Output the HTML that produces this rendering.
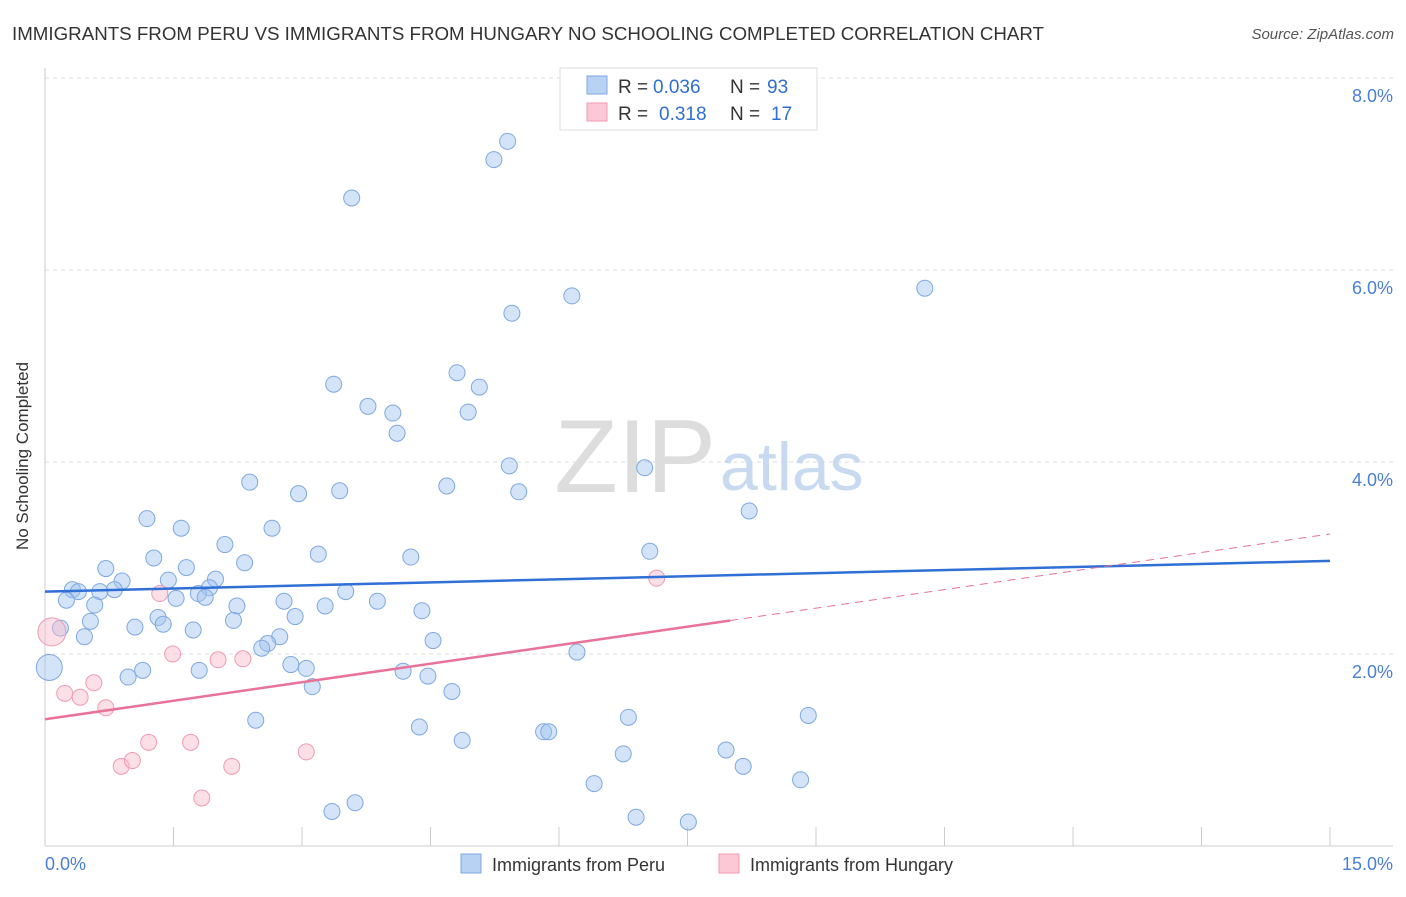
<!DOCTYPE html>
<html><head><meta charset="utf-8"><style>
body{margin:0;background:#fff;font-family:"Liberation Sans",sans-serif;}
svg text{font-family:"Liberation Sans",sans-serif;}
</style></head><body>
<svg id="chart" width="1406" height="892" viewBox="0 0 1406 892">
<text x="12" y="40" font-size="18" fill="#333" textLength="1032" lengthAdjust="spacingAndGlyphs">IMMIGRANTS FROM PERU VS IMMIGRANTS FROM HUNGARY NO SCHOOLING COMPLETED CORRELATION CHART</text>
<text x="1394" y="39" font-size="15" fill="#555" font-style="italic" text-anchor="end">Source: ZipAtlas.com</text>
<text x="28" y="456" font-size="17" fill="#333" text-anchor="middle" transform="rotate(-90 28 456)">No Schooling Completed</text>
<g id="grid"></g>
<text x="716" y="492" font-size="104" fill="#ddd" text-anchor="end" font-family="Liberation Serif">ZIP</text>
<text x="720" y="490" font-size="68" fill="#c8daf0">atlas</text>
<g id="marks"></g>
<g>
<rect x="560" y="68" width="257" height="62" fill="#fff" stroke="#ddd"/>
<rect x="587" y="76" width="20" height="18" fill="#b8d2f4" stroke="#7fa8e0"/>
<rect x="587" y="103" width="20" height="18" fill="#fcc8d6" stroke="#f09ab2"/>
<text x="618" y="93" font-size="19" fill="#333">R =</text>
<text x="653" y="93" font-size="19" fill="#2f6fcf">0.036</text>
<text x="730" y="93" font-size="19" fill="#333">N =</text>
<text x="767" y="93" font-size="19" fill="#2f6fcf">93</text>
<text x="618" y="120" font-size="19" fill="#333">R =</text>
<text x="659" y="120" font-size="19" fill="#2f6fcf">0.318</text>
<text x="730" y="120" font-size="19" fill="#333">N =</text>
<text x="771" y="120" font-size="19" fill="#2f6fcf">17</text>
</g>
<g>
<rect x="461" y="854" width="20" height="19" fill="#b8d2f4" stroke="#7fa8e0"/>
<text x="492" y="871" font-size="18" fill="#333">Immigrants from Peru</text>
<rect x="719" y="854" width="20" height="19" fill="#fcc8d6" stroke="#f09ab2"/>
<text x="750" y="871" font-size="18" fill="#333">Immigrants from Hungary</text>
</g>
</svg>
<script>
const xTicks=[0,1.5,3,4.5,6,7.5,9,10.5,12,13.5,15];
const yTicks=[2,4,6,8];
const yTickLabels=["2.0%","4.0%","6.0%","8.0%"];
const xEndLabels=["0.0%","15.0%"];
const peruX=[5.40,5.24,3.58,10.27,6.15,5.45,3.37,4.81,5.07,3.77,4.06,4.94,4.11,5.42,7.00,2.39,4.69,2.96,3.44,5.53,8.22,1.19,1.59,2.65,2.10,7.06,1.27,3.19,4.27,2.33,0.71,1.65,0.90,1.44,1.99,0.32,0.39,0.81,0.64,1.92,1.79,1.87,1.53,3.51,0.25,0.58,2.24,2.79,3.27,3.88,1.32,0.53,2.20,2.92,4.40,1.38,1.05,1.73,0.18,0.46,2.74,2.60,2.53,4.53,6.21,0.05,2.87,3.05,1.14,1.80,0.97,4.18,4.47,3.12,4.75,2.46,6.81,8.91,4.37,5.82,5.88,4.87,7.95,6.75,8.15,8.82,6.41,3.62,3.35,6.90,7.51];
const peruY=[7.34,7.15,6.75,5.81,5.73,5.55,4.81,4.93,4.78,4.58,4.51,4.52,4.30,3.96,3.94,3.79,3.75,3.67,3.70,3.69,3.49,3.41,3.31,3.31,3.14,3.07,3.00,3.04,3.01,2.95,2.89,2.90,2.76,2.77,2.78,2.67,2.65,2.67,2.65,2.69,2.63,2.59,2.58,2.65,2.56,2.51,2.50,2.55,2.50,2.55,2.38,2.34,2.35,2.39,2.45,2.31,2.28,2.25,2.27,2.18,2.18,2.11,2.06,2.14,2.02,1.86,1.89,1.85,1.83,1.83,1.76,1.82,1.77,1.66,1.61,1.31,1.34,1.36,1.24,1.19,1.19,1.10,1.00,0.96,0.83,0.69,0.65,0.45,0.36,0.30,0.25];
const hunX=[0.08,1.34,7.14,1.49,2.02,2.31,0.23,0.41,0.57,0.71,1.21,1.70,3.05,0.89,1.02,2.18,1.83];
const hunY=[2.23,2.63,2.79,2.00,1.94,1.95,1.59,1.55,1.70,1.44,1.08,1.08,0.98,0.83,0.89,0.83,0.50];
const peruTrend=[2.65,2.97];
const hunTrend=[1.32,3.25];
const hunSolidEnd=8.0;

const NS="http://www.w3.org/2000/svg";
const X0=45,X1=1330,YB=846,PPU=96;
const sx=v=>X0+(v-0)/15*(X1-X0);
const sy=v=>YB-v*PPU;
function mk(tag,attrs,parent){const e=document.createElementNS(NS,tag);for(const k in attrs)e.setAttribute(k,attrs[k]);parent.appendChild(e);return e;}
const grid=document.getElementById('grid'),marks=document.getElementById('marks');
yTicks.forEach((t,i)=>{
 const l=mk('line',{x1:X0,x2:1393,y1:sy(t),y2:sy(t),stroke:'#ddd','stroke-dasharray':'4,4'},grid);
 
 
 const tx=mk('text',{x:1393,y:sy(t)+24,'font-size':18,fill:'#4a7fd4','text-anchor':'end'},grid);
 tx.textContent=yTickLabels[i];
 
 
});
const ax=mk('line',{x1:X0,x2:1393,y1:YB,y2:YB,stroke:'#ccc'},grid);


const ay=mk('line',{x1:X0,x2:X0,y1:68,y2:YB,stroke:'#ccc'},grid);


xTicks.forEach(t=>{
 const l=mk('line',{x1:sx(t),x2:sx(t),y1:YB,y2:YB-19,stroke:'#ccc'},grid);
 
 
});
const xl0=mk('text',{x:45,y:870,'font-size':18,fill:'#4a7fd4'},grid);xl0.textContent=xEndLabels[0];


const xl1=mk('text',{x:1393,y:870,'font-size':18,fill:'#4a7fd4','text-anchor':'end'},grid);xl1.textContent=xEndLabels[1];


peruX.forEach((x,i)=>{
 const big=(i===65);
 const c=mk('circle',{cx:sx(x),cy:sy(peruY[i]),r:big?13:8,fill:'rgba(160,196,240,0.45)',stroke:'#7fa8e0','stroke-width':1},marks);
 
 
});
hunX.forEach((x,i)=>{
 const big=(i===0);
 const c=mk('circle',{cx:sx(x),cy:sy(hunY[i]),r:big?14:8,fill:'rgba(250,185,205,0.45)',stroke:'#f09ab2','stroke-width':1},marks);
 
 
});
const pl=mk('line',{x1:sx(0),y1:sy(peruTrend[0]),x2:sx(15),y2:sy(peruTrend[1]),stroke:'#2f6fd6','stroke-width':2.5},marks);


const hMid=hunTrend[0]+(hunTrend[1]-hunTrend[0])*hunSolidEnd/15;
const hl=mk('line',{x1:sx(0),y1:sy(hunTrend[0]),x2:sx(hunSolidEnd),y2:sy(hMid),stroke:'#e8729a','stroke-width':2.5},marks);


const hd=mk('line',{x1:sx(hunSolidEnd),y1:sy(hMid),x2:sx(15),y2:sy(hunTrend[1]),stroke:'#e8729a','stroke-width':1,'stroke-dasharray':'8,6'},marks);


</script>
</body></html>
